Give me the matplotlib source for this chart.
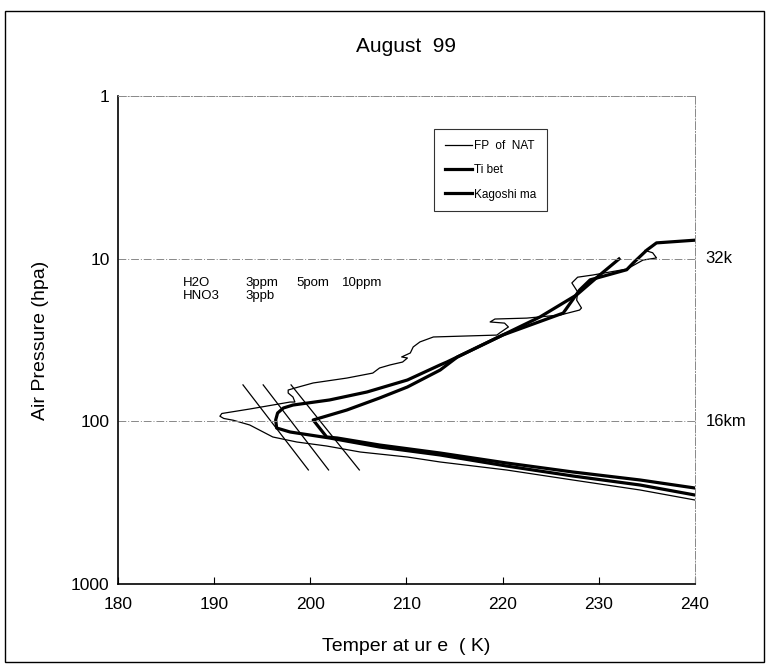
import numpy as np
import matplotlib
matplotlib.use("Agg")
import matplotlib.pyplot as plt
from matplotlib.patches import Rectangle
from matplotlib.ticker import FixedLocator, NullLocator, FixedFormatter

plt.rcParams['font.family'] = ['Liberation Sans', 'DejaVu Sans']

# thin sounding curve (temperature K, pressure hPa)
thin_t = [240.0, 234.3, 227.3, 220.4, 213.5, 210.1, 205.2, 201.7, 198.6, 196.1,
          193.7, 192.0, 191.0, 190.6, 190.8, 193.7, 197.9, 198.4, 198.2, 197.7,
          197.7, 198.4, 200.3, 203.8, 206.5, 207.2, 208.3, 209.6, 210.1, 209.5,
          210.4, 210.7, 211.4, 212.8, 219.4, 219.7, 220.6, 220.2, 218.7, 219.2,
          222.5, 226.0, 228.0, 228.2, 227.7, 227.8, 227.2, 227.8, 229.4, 232.5,
          232.9, 234.6, 236.0, 235.6, 234.8]
thin_p = [304.5, 264.3, 229.4, 199.1, 177.8, 165.7, 154.4, 141.8, 134.0, 124.8,
          105.3, 98.5, 96.0, 93.0, 89.5, 84.0, 76.1, 76.1, 70.9, 67.0,
          64.2, 62.4, 58.1, 54.2, 50.5, 47.0, 45.0, 43.2, 40.8, 40.2,
          38.0, 34.9, 32.5, 30.3, 29.5, 28.6, 26.3, 24.9, 24.5, 23.5,
          23.2, 22.2, 20.7, 20.1, 18.0, 16.0, 14.1, 13.0, 12.6, 11.7,
          11.6, 10.2, 9.9, 9.2, 8.9]

# Tibet
tib_t = [240.0, 234.3, 227.3, 220.4, 213.5, 207.2, 202.8, 201.7, 200.3, 203.8,
         207.2, 210.1, 213.5, 215.3, 220.0, 223.9, 227.7, 230.1, 232.1]
tib_p = [257.0, 229.4, 204.8, 180.3, 156.6, 139.8, 126.6, 124.8, 98.1, 85.2,
         71.9, 61.5, 48.4, 40.2, 29.5, 22.8, 16.7, 12.6, 10.05]

# Kagoshima
kag_t = [240.0, 234.3, 227.3, 220.4, 213.5, 207.2, 202.0, 197.9, 196.5, 196.4,
         196.6, 197.2, 198.2, 202.0, 205.9, 210.1, 213.5, 214.2, 220.0, 226.3,
         228.0, 229.1, 232.9, 233.6, 235.0, 236.0, 240.0]
kag_p = [283.8, 246.3, 216.8, 188.2, 161.0, 143.8, 126.6, 116.3, 109.9, 98.1,
         88.9, 82.8, 79.4, 73.9, 66.0, 55.7, 45.0, 43.2, 29.5, 21.6,
         15.6, 13.5, 11.7, 10.6, 8.85, 8.0, 7.7]

# NAT existence lines for H2O 3, 5, 10 ppm
nat_t0 = [193.0, 195.1, 198.0]
nat_t1 = [199.8, 201.9, 205.1]
nat_p = [59.7, 199.0]

fig = plt.figure(figsize=(7.68, 6.66), dpi=100)
ax = fig.add_axes([0.1536, 0.1231, 0.7513, 0.7328])

ax.plot(thin_t, thin_p, color='black', lw=0.9, label='FP  of  NAT')
ax.plot(tib_t, tib_p, color='black', lw=2.3, label='Ti bet')
ax.plot(kag_t, kag_p, color='black', lw=2.3, label='Kagoshi ma')
for a, b in zip(nat_t0, nat_t1):
    ax.plot([a, b], nat_p, color='black', lw=0.9)

ax.set_yscale('log')
ax.set_ylim(1000, 1)
ax.set_xlim(180, 240)

for p in [10, 100]:
    ax.axhline(p, color='#888888', lw=0.7, ls=(0, (8, 2, 1, 2)))

ax.yaxis.set_major_locator(FixedLocator([1, 10, 100, 1000]))
ax.yaxis.set_major_formatter(FixedFormatter(['1', '10', '100', '1000']))
ax.yaxis.set_minor_locator(NullLocator())
ax.set_xticks([180, 190, 200, 210, 220, 230, 240])
ax.tick_params(axis='both', direction='in', length=5, width=0.8, labelsize=12.5)
ax.tick_params(axis='x', pad=9)
ax.tick_params(axis='y', length=0, pad=6)

ax.spines['left'].set_linewidth(1.2)
ax.spines['bottom'].set_linewidth(1.2)
for s in ['top', 'right']:
    ax.spines[s].set_color('#888888')
    ax.spines[s].set_linewidth(0.7)
    ax.spines[s].set_linestyle((0, (8, 2, 1, 2)))

ax.set_xlabel('Temper at ur e  ( K)', fontsize=14, labelpad=19)
ax.set_ylabel('Air Pressure (hpa)', fontsize=14, labelpad=16)
ax.set_title('August  99', fontsize=15, pad=32)

# right side altitude marks
ax.text(1.018, 10, '32k', transform=ax.get_yaxis_transform(), fontsize=12,
        va='center', ha='left')
ax.text(1.018, 100, '16km', transform=ax.get_yaxis_transform(), fontsize=12,
        va='center', ha='left')

# mixing ratio notes
ax.text(186.8, 14.1, 'H2O', fontsize=9.5, va='center')
ax.text(193.3, 14.1, '3ppm', fontsize=9.5, va='center')
ax.text(198.6, 14.1, '5pom', fontsize=9.5, va='center')
ax.text(203.3, 14.1, '10ppm', fontsize=9.5, va='center')
ax.text(186.8, 17.0, 'HNO3', fontsize=9.5, va='center')
ax.text(193.3, 17.0, '3ppb', fontsize=9.5, va='center')

leg = ax.legend(loc='upper left', bbox_to_anchor=(0.548, 0.932), borderaxespad=0,
                fontsize=8.5, frameon=True, fancybox=False, edgecolor='black',
                handlelength=2.3, handletextpad=0.2, labelspacing=1.05,
                borderpad=0.9)
leg.get_frame().set_linewidth(0.8)

# outer frame
fig.patches.append(Rectangle((0.007, 0.006), 0.988, 0.978, transform=fig.transFigure,
                             fill=False, edgecolor='black', lw=1.0))

fig.savefig('out.png', dpi=100)
